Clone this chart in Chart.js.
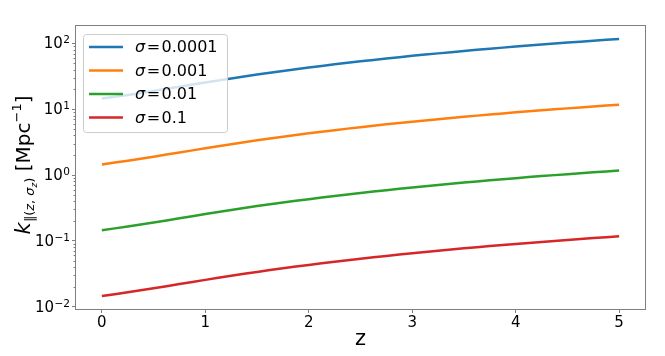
<!DOCTYPE html>
<html>
<head>
<meta charset="utf-8">
<script src="https://cdn.jsdelivr.net/npm/chart.js@4/dist/chart.umd.min.js"></script>
<style>
  body { margin: 0; background: #fff; }
  #wrap { width: 665px; height: 356px; }
</style>
</head>
<body>
<div id="wrap"><canvas id="kChart" width="665" height="356"></canvas></div>
<script>
// values
const zValues = [0, 0.25, 0.5, 0.75, 1, 1.25, 1.5, 1.75, 2, 2.25, 2.5, 2.75, 3, 3.25, 3.5, 3.75, 4, 4.25, 4.5, 4.75, 5];
const kSigma0001 = [14.5, 16.5, 19.0, 22.0, 25.5, 29.4, 33.7, 38.2, 43.0, 48.1, 53.4, 58.9, 64.7, 70.6, 76.8, 83.1, 89.6, 96.3, 103, 110, 117];
const kSigma001 = [1.45, 1.65, 1.90, 2.20, 2.55, 2.94, 3.37, 3.82, 4.30, 4.81, 5.34, 5.89, 6.47, 7.06, 7.68, 8.31, 8.96, 9.63, 10.3, 11.0, 11.7];
const kSigma01 = [0.145, 0.165, 0.190, 0.220, 0.255, 0.294, 0.337, 0.382, 0.430, 0.481, 0.534, 0.589, 0.647, 0.706, 0.768, 0.831, 0.896, 0.963, 1.03, 1.10, 1.17];
const kSigma1 = [0.0145, 0.0165, 0.0190, 0.0220, 0.0255, 0.0294, 0.0337, 0.0382, 0.0430, 0.0481, 0.0534, 0.0589, 0.0647, 0.0706, 0.0768, 0.0831, 0.0896, 0.0963, 0.103, 0.110, 0.117];
const sigmaLabels = ['0.0001', '0.001', '0.01', '0.1'];
const xTicks = [0, 1, 2, 3, 4, 5];
const yTickValues = [0.01, 0.1, 1, 10, 100];
const yTickExponents = ['\u22122', '\u22121', '0', '1', '2'];

const colors = ['#1f77b4', '#ff7f0e', '#2ca02c', '#d62728'];
const series = [kSigma0001, kSigma001, kSigma01, kSigma1];
const FONT = 'DejaVu Sans';
const spineColor = '#7f7f7f';

function toPoints(ys) {
    return zValues.map((z, i) => ({ x: z, y: ys[i] }));
}

// frame, minor ticks, y tick labels, y title and legend
const decorPlugin = {
    id: 'decor',
    afterDraw(chart) {
        const ctx = chart.ctx;
        const a = chart.chartArea;
        const yScale = chart.scales.y;
        ctx.save();

        // spines
        ctx.strokeStyle = spineColor;
        ctx.lineWidth = 1;
        ctx.strokeRect(a.left - 0.5, a.top - 0.5, a.right - a.left + 1, a.bottom - a.top + 1);

        // minor ticks on the log axis
        for (let d = -3; d <= 2; d++) {
            for (let m = 2; m <= 9; m++) {
                const v = m * Math.pow(10, d);
                if (v < yScale.min || v > yScale.max) continue;
                const py = Math.round(yScale.getPixelForValue(v)) + 0.5;
                ctx.beginPath();
                ctx.moveTo(a.left - 2.5, py);
                ctx.lineTo(a.left, py);
                ctx.stroke();
            }
        }

        // y tick labels as 10 with a raised exponent
        ctx.fillStyle = '#000';
        ctx.textBaseline = 'alphabetic';
        ctx.textAlign = 'left';
        yTickValues.forEach((v, i) => {
            const base = yScale.getPixelForValue(v) + 5;
            ctx.font = '10.5px ' + FONT;
            const ew = ctx.measureText(yTickExponents[i]).width;
            ctx.font = '15px ' + FONT;
            const mw = ctx.measureText('10').width;
            const x0 = 70 - ew - mw - 0.5;
            ctx.fillText('10', x0, base);
            ctx.font = '10.5px ' + FONT;
            ctx.fillText(yTickExponents[i], x0 + mw + 0.5, base - 5);
        });

        // y axis title, drawn piece by piece for the sub/superscripts
        const parts = [
            ['k', 'italic 21px ' + FONT, 0],
            ['\u2225', '13px ' + FONT, 4],
            ['(', '13px ' + FONT, 4],
            ['z', 'italic 13px ' + FONT, 4],
            [', ', '13px ' + FONT, 4],
            ['\u03C3', 'italic 13px ' + FONT, 4],
            ['z', 'italic 9px ' + FONT, 7],
            [')', '13px ' + FONT, 4],
            [' [Mpc', '20px ' + FONT, 0],
            ['\u22121', '13px ' + FONT, -9],
            [']', '20px ' + FONT, 0]
        ];
        let total = 0;
        parts.forEach(p => { ctx.font = p[1]; total += ctx.measureText(p[0]).width; });
        ctx.save();
        ctx.translate(30, 165);
        ctx.rotate(-Math.PI / 2);
        let px = -total / 2;
        parts.forEach(p => {
            ctx.font = p[1];
            ctx.fillText(p[0], px, p[2]);
            px += ctx.measureText(p[0]).width;
        });
        ctx.restore();

        // legend box
        ctx.beginPath();
        ctx.roundRect(83.5, 34.5, 144, 98, 3);
        ctx.fillStyle = 'rgba(255,255,255,0.8)';
        ctx.fill();
        ctx.strokeStyle = '#cccccc';
        ctx.stroke();

        const rowY = [47, 70.5, 94, 117.5];
        ctx.textBaseline = 'middle';
        sigmaLabels.forEach((lab, i) => {
            const y = rowY[i];
            ctx.strokeStyle = colors[i];
            ctx.lineWidth = 2.5;
            ctx.beginPath();
            ctx.moveTo(89, y);
            ctx.lineTo(123, y);
            ctx.stroke();

            ctx.fillStyle = '#000';
            let tx = 135;
            ctx.font = 'italic 16px ' + FONT;
            ctx.fillText('\u03C3', tx, y + 1);
            tx += ctx.measureText('\u03C3').width + 1.5;
            ctx.font = '16px ' + FONT;
            ctx.fillText('=', tx, y + 1);
            tx += ctx.measureText('=').width + 1.5;
            ctx.fillText(lab, tx, y + 1);
        });

        ctx.restore();
    }
};

const config = {
    type: 'line',
    data: {
        datasets: series.map((ys, i) => ({
            label: '\u03C3 = ' + sigmaLabels[i],
            data: toPoints(ys),
            borderColor: colors[i],
            backgroundColor: colors[i],
            borderWidth: 2.5,
            pointRadius: 0,
            tension: 0.3,
            fill: false
        }))
    },
    options: {
        responsive: false,
        animation: false,
        layout: { padding: { top: 26, right: 20, left: 0, bottom: 0 } },
        plugins: {
            legend: { display: false },
            tooltip: { enabled: false }
        },
        scales: {
            x: {
                type: 'linear',
                min: -0.25,
                max: 5.25,
                afterFit: s => { s.height = 47; },
                afterBuildTicks: s => { s.ticks = xTicks.map(v => ({ value: v })); },
                ticks: {
                    font: { family: FONT, size: 15 },
                    color: '#000',
                    padding: 1,
                    maxRotation: 0
                },
                grid: { drawOnChartArea: false, tickLength: 4, tickColor: spineColor },
                border: { display: false },
                title: {
                    display: true,
                    text: 'z',
                    font: { family: FONT, size: 21 },
                    color: '#000',
                    padding: { top: 0, bottom: 4 }
                }
            },
            y: {
                type: 'logarithmic',
                min: 0.0092,
                max: 184,
                afterFit: s => { s.width = 76; },
                afterBuildTicks: s => { s.ticks = yTickValues.map(v => ({ value: v })); },
                ticks: { display: false },
                grid: { drawOnChartArea: false, tickLength: 4, tickColor: spineColor },
                border: { display: false }
            }
        }
    },
    plugins: [decorPlugin]
};

const kChart = new Chart(document.getElementById('kChart'), config);
</script>
</body>
</html>
